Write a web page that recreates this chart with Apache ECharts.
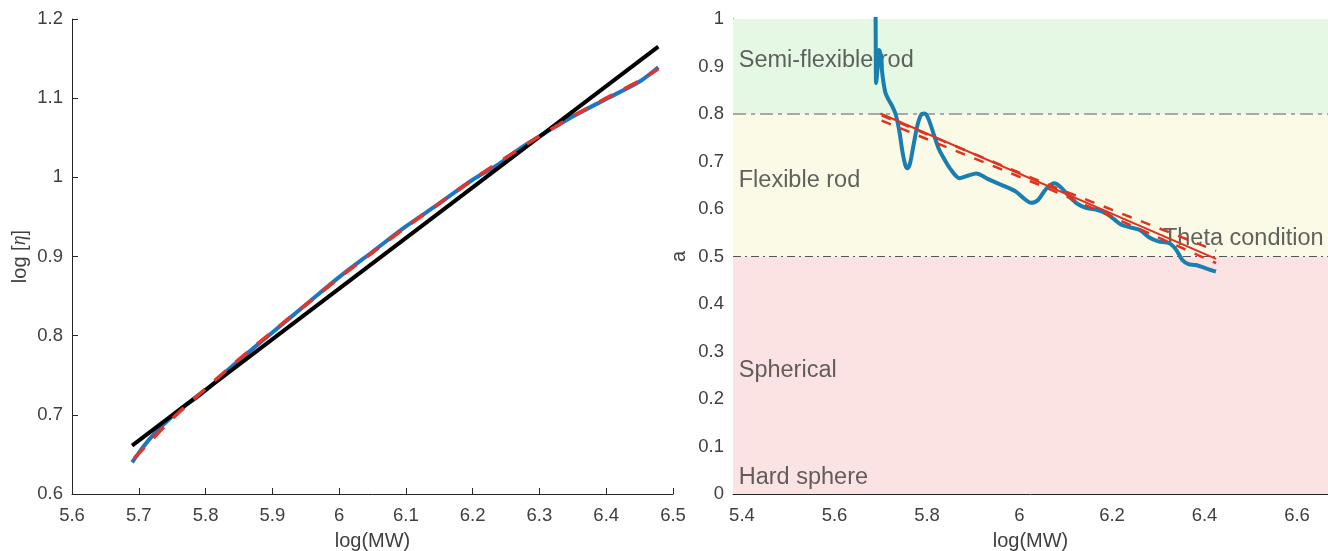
<!DOCTYPE html>
<html>
<head>
<meta charset="utf-8">
<script src="https://cdn.jsdelivr.net/npm/echarts@6/dist/echarts.min.js"></script>
<style>
  html, body { margin: 0; padding: 0; background: #ffffff; }
  #chart { width: 1328px; height: 551px; }
</style>
</head>
<body>
<div id="chart"></div>
<script>
// ---- Left panel: log[eta] against log(MW) ----
const etaX = [5.690, 5.700, 5.710, 5.720, 5.735, 5.750, 5.770, 5.790, 5.810, 5.830, 5.850, 5.870, 5.900,
              5.950, 6.000, 6.050, 6.100, 6.150, 6.200, 6.236, 6.270, 6.316, 6.350, 6.400, 6.450, 6.478];
const etaMeasured = [0.640, 0.652, 0.663, 0.673, 0.686, 0.698, 0.712, 0.724, 0.738, 0.754, 0.769, 0.783, 0.804,
                     0.839, 0.874, 0.906, 0.938, 0.967, 0.997, 1.015, 1.036, 1.060, 1.077, 1.099, 1.121, 1.139];
const quadX = [5.693, 5.750, 5.800, 5.850, 5.900, 5.950, 6.000, 6.050, 6.100, 6.150, 6.200, 6.250, 6.300,
               6.350, 6.400, 6.450, 6.478];
const quadFit = [0.645, 0.695, 0.733, 0.770, 0.805, 0.839, 0.873, 0.905, 0.937, 0.967, 0.997, 1.025, 1.052,
                 1.077, 1.100, 1.122, 1.137];
const linX = [5.690, 6.478];
const linFit = [0.661, 1.165];

// ---- Right panel: local exponent a against log(MW) ----
const aX = [5.6886, 5.6893, 5.6900, 5.6935, 5.6965, 5.6995, 5.7040, 5.7100, 5.7160, 5.7240, 5.7320, 5.7400,
            5.7470, 5.7530, 5.7575, 5.7630, 5.7700, 5.7790, 5.7870, 5.7950, 5.8030, 5.8130, 5.8250, 5.8345,
            5.8500, 5.8705, 5.8880, 5.9066, 5.9300, 5.9530, 5.9750, 5.9929, 6.0100, 6.0253, 6.0400, 6.0580,
            6.0756, 6.0900, 6.1080, 6.1250, 6.1450, 6.1691, 6.1872, 6.2050, 6.2200, 6.2400, 6.2600, 6.2807,
            6.3000, 6.3238, 6.3380, 6.3525, 6.3650, 6.3815, 6.4000, 6.4246];
const aLocal = [1.080, 0.920, 0.865, 0.900, 0.935, 0.925, 0.880, 0.845, 0.832, 0.818, 0.800, 0.765,
                0.720, 0.693, 0.686, 0.695, 0.730, 0.775, 0.798, 0.801, 0.790, 0.762, 0.728, 0.710,
                0.685, 0.665, 0.670, 0.675, 0.664, 0.654, 0.645, 0.636, 0.622, 0.613, 0.619, 0.643,
                0.654, 0.645, 0.626, 0.611, 0.602, 0.598, 0.591, 0.578, 0.567, 0.561, 0.556, 0.540,
                0.532, 0.528, 0.515, 0.492, 0.484, 0.482, 0.476, 0.468];
const trendX = [5.6995, 6.425];
const trendA = [0.801, 0.495];
const boundX = [5.702, 6.060, 6.425];
const upperA = [0.797, 0.652, 0.512];
const lowerA = [0.786, 0.644, 0.486];

const regionLimits = [0, 0.5, 0.8, 1];
const regionNames = ['Hard sphere', 'Spherical', 'Flexible rod', 'Semi-flexible rod', 'Theta condition'];
const regionNameX = [5.393, 5.393, 5.393, 5.393, 6.310];
const regionNameA = [0.034, 0.261, 0.661, 0.912, 0.537];

const rightXTicks = [5.4, 5.6, 5.8, 6, 6.2, 6.4, 6.6];

const zip = (xs, ys) => xs.map((x, i) => [x, ys[i]]);

const FONT = '"Liberation Sans", Arial, Helvetica, sans-serif';
const AXIS_COLOR = '#262626';
const TEXT_COLOR = '#404040';

function axisBase(isX) {
  return {
    axisLine: { onZero: false, lineStyle: { color: AXIS_COLOR, width: 1 } },
    axisTick: { inside: true, length: 6, lineStyle: { color: AXIS_COLOR, width: 1 } },
    axisLabel: { fontFamily: FONT, fontSize: 18.5, color: TEXT_COLOR, margin: isX ? 12 : 9 },
    splitLine: { show: false },
    nameTextStyle: { fontFamily: FONT, fontSize: 20, color: TEXT_COLOR },
    nameLocation: 'middle'
  };
}

const chart = echarts.init(document.getElementById('chart'), null, { renderer: 'canvas' });

const option = {
  animation: false,
  backgroundColor: '#ffffff',
  grid: [
    { left: 72, top: 19, width: 601, height: 475, outerBoundsMode: 'none', containLabel: false },
    { left: 733, top: 19, right: 0, height: 475, outerBoundsMode: 'none', containLabel: false }
  ],
  xAxis: [
    Object.assign(axisBase(true), {
      gridIndex: 0, type: 'value', min: 5.6, max: 6.5, interval: 0.1,
      name: 'log(MW)', nameGap: 37
    }),
    Object.assign(axisBase(true), {
      gridIndex: 1, type: 'value', min: 5.3806, max: 6.6669,
      name: 'log(MW)', nameGap: 37
    })
  ],
  yAxis: [
    Object.assign(axisBase(false), {
      gridIndex: 0, type: 'value', min: 0.6, max: 1.2, interval: 0.1,
      name: 'log [{e|η}]', nameGap: 42, nameRotate: 90
    }),
    Object.assign(axisBase(false), {
      gridIndex: 1, type: 'value', min: 0, max: 1, interval: 0.1,
      name: 'a', nameGap: 44, nameRotate: 90
    })
  ],
  series: [
    // left panel
    {
      type: 'line', xAxisIndex: 0, yAxisIndex: 0, data: zip(etaX, etaMeasured),
      showSymbol: false, symbol: 'none', smooth: 0.3, z: 3,
      lineStyle: { color: '#1f75c0', width: 4 }
    },
    {
      type: 'line', xAxisIndex: 0, yAxisIndex: 0, data: zip(linX, linFit),
      showSymbol: false, symbol: 'none', z: 4,
      lineStyle: { color: '#000000', width: 4 }
    },
    {
      type: 'line', xAxisIndex: 0, yAxisIndex: 0, data: zip(quadX, quadFit),
      showSymbol: false, symbol: 'none', smooth: 0.3, z: 5,
      lineStyle: { color: '#e2352b', width: 3.5, type: [15, 13] }
    },
    // right panel: background regions and thresholds
    {
      type: 'line', xAxisIndex: 1, yAxisIndex: 1, data: [], z: 1, silent: true,
      markArea: {
        silent: true,
        data: [
          [{ yAxis: regionLimits[0], itemStyle: { color: '#fce3e3' } }, { yAxis: regionLimits[1] }],
          [{ yAxis: regionLimits[1], itemStyle: { color: '#fbfae6' } }, { yAxis: regionLimits[2] }],
          [{ yAxis: regionLimits[2], itemStyle: { color: '#e5f8e3' } }, { yAxis: regionLimits[3] }]
        ]
      },
      markLine: {
        silent: true, symbol: ['none', 'none'], label: { show: false },
        data: [
          { yAxis: regionLimits[2], lineStyle: { color: '#a8a8a8', width: 2, type: [13, 5, 4, 5] } },
          { yAxis: regionLimits[1], lineStyle: { color: '#555555', width: 1.2, type: [8, 4, 2, 4] } }
        ]
      }
    },
    {
      type: 'scatter', xAxisIndex: 1, yAxisIndex: 1, symbolSize: 0, z: 2, silent: true,
      data: regionNames.map((n, i) => ({ name: n, value: [regionNameX[i], regionNameA[i]] })),
      label: {
        show: true, position: 'right', distance: 0, formatter: '{b}',
        fontFamily: FONT, fontSize: 23.5, color: '#3a3a3a'
      }
    },
    {
      type: 'line', xAxisIndex: 1, yAxisIndex: 1, data: zip(aX, aLocal),
      showSymbol: false, symbol: 'none', smooth: 0.3, z: 5,
      lineStyle: { color: '#1a7fb0', width: 4 }
    },
    {
      type: 'line', xAxisIndex: 1, yAxisIndex: 1, data: zip(trendX, trendA),
      showSymbol: false, symbol: 'none', z: 6,
      lineStyle: { color: '#e0321f', width: 2 }
    },
    {
      type: 'line', xAxisIndex: 1, yAxisIndex: 1, data: zip(boundX, upperA),
      showSymbol: false, symbol: 'none', z: 6,
      lineStyle: { color: '#e0321f', width: 2.5, type: [10, 10] }
    },
    {
      type: 'line', xAxisIndex: 1, yAxisIndex: 1, data: zip(boundX, lowerA),
      showSymbol: false, symbol: 'none', z: 6,
      lineStyle: { color: '#e0321f', width: 2.5, type: [10, 10] }
    }
  ]
};

// italic eta in the left y-axis title
option.yAxis[0].nameTextStyle.rich = {
  e: { fontFamily: '"Liberation Serif", "DejaVu Serif", serif', fontStyle: 'italic', fontSize: 20, color: TEXT_COLOR }
};
// fixed tick positions on the right x axis
option.xAxis[1].axisTick.customValues = rightXTicks;
option.xAxis[1].axisLabel.customValues = rightXTicks;

chart.setOption(option);
</script>
</body>
</html>
